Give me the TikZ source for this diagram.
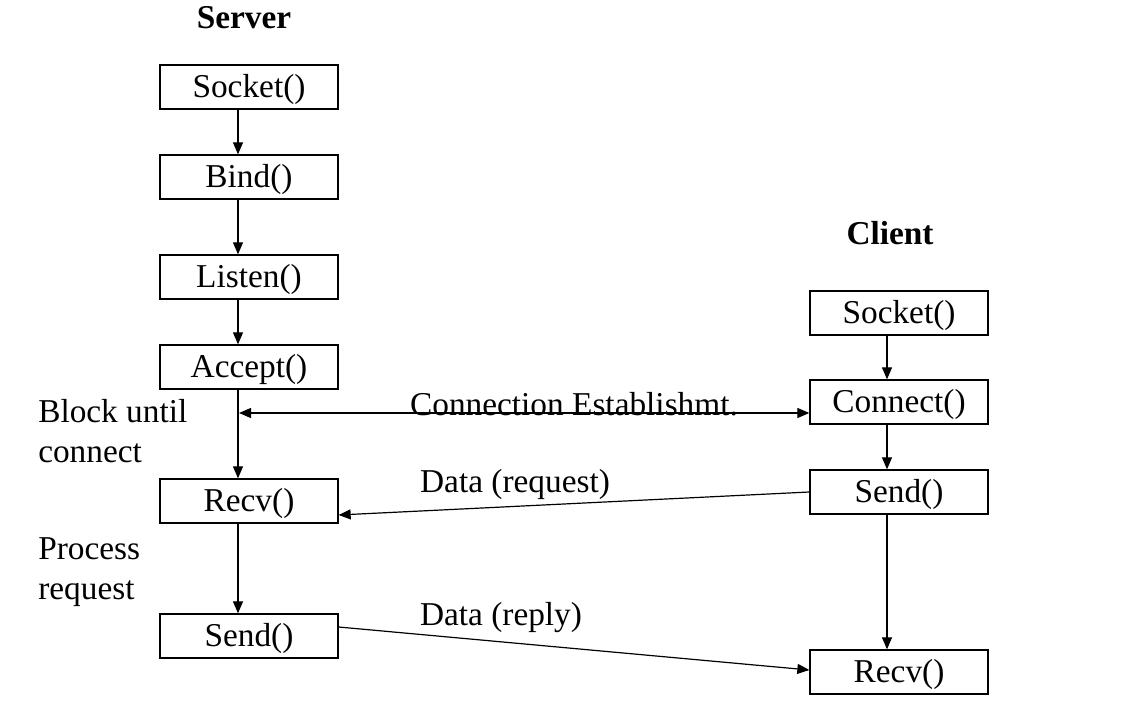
\documentclass[tikz,border=0pt]{standalone}
\usepackage{fontspec}
\setmainfont{Liberation Serif}
\usetikzlibrary{arrows.meta,calc}
\begin{document}
\begin{tikzpicture}[x=0.75pt,y=-0.75pt,
  box/.style={draw,line width=1pt,minimum width=133.5pt,minimum height=33pt,inner sep=0pt,text height=21.5pt,text depth=5.4pt,font=\fontsize{25}{30}\selectfont},
  lbl/.style={inner sep=0pt,font=\fontsize{25}{30}\selectfont},
  ttl/.style={inner sep=0pt,font=\fontsize{25}{30}\selectfont\bfseries},
  arr/.style={line width=0.9pt,-{Triangle[length=9pt,width=7.5pt]}},
  arrb/.style={line width=0.9pt,{Triangle[length=9pt,width=7.5pt]}-{Triangle[length=9pt,width=7.5pt]}}]
\useasboundingbox (0,0) rectangle (1123,712);
\coordinate (sx) at (238,0);
\coordinate (cx) at (887,0);
% titles
\node[ttl] (tServer) at (244,18) {Server};
\node[ttl] (tClient) at (890,233) {Client};
% server boxes
\node[box] (sSock) at (249,87) {Socket()};
\node[box] (sBind) at (249,177) {Bind()};
\node[box] (sList) at (249,277) {Listen()};
\node[box] (sAcc) at (249,367) {Accept()};
\node[box] (sRecv) at (249,501) {Recv()};
\node[box] (sSend) at (249,636) {Send()};
% client boxes
\node[box] (cSock) at (899,313) {Socket()};
\node[box] (cConn) at (899,402) {Connect()};
\node[box] (cSend) at (899,492) {Send()};
\node[box] (cRecv) at (899,672) {Recv()};
% server arrows
\draw[arr] (sSock.south -| sx) -- (sBind.north -| sx);
\draw[arr] (sBind.south -| sx) -- (sList.north -| sx);
\draw[arr] (sList.south -| sx) -- (sAcc.north -| sx);
\draw[arr] (sAcc.south -| sx) -- (sRecv.north -| sx);
\draw[arr] (sRecv.south -| sx) -- (sSend.north -| sx);
% client arrows
\draw[arr] (cSock.south -| cx) -- (cConn.north -| cx);
\draw[arr] (cConn.south -| cx) -- (cSend.north -| cx);
\draw[arr] (cSend.south -| cx) -- (cRecv.north -| cx);
% connection
\coordinate (connL) at (239,413);
\draw[arrb] (connL) -- (cConn.west |- connL);
\node[lbl] (lConn) at (574,404) {Connection Establishmt.};
% data request
\draw[arr] (cSend.west) -- ($(sRecv.east)+(0,14)$);
\node[lbl] (lReq) at (515,484) {Data (request)};
% data reply
\draw[arr] ($(sSend.east)+(0,-9)$) -- ($(cRecv.west)+(0,-2)$);
\node[lbl] (lRep) at (501,618) {Data (reply)};
% side notes
\node[lbl,anchor=west,align=left] (nBlock) at (38,431) {Block until\\connect};
\node[lbl,anchor=west,align=left] (nProc) at (38,572) {Process\\request};
\end{tikzpicture}
\end{document}
